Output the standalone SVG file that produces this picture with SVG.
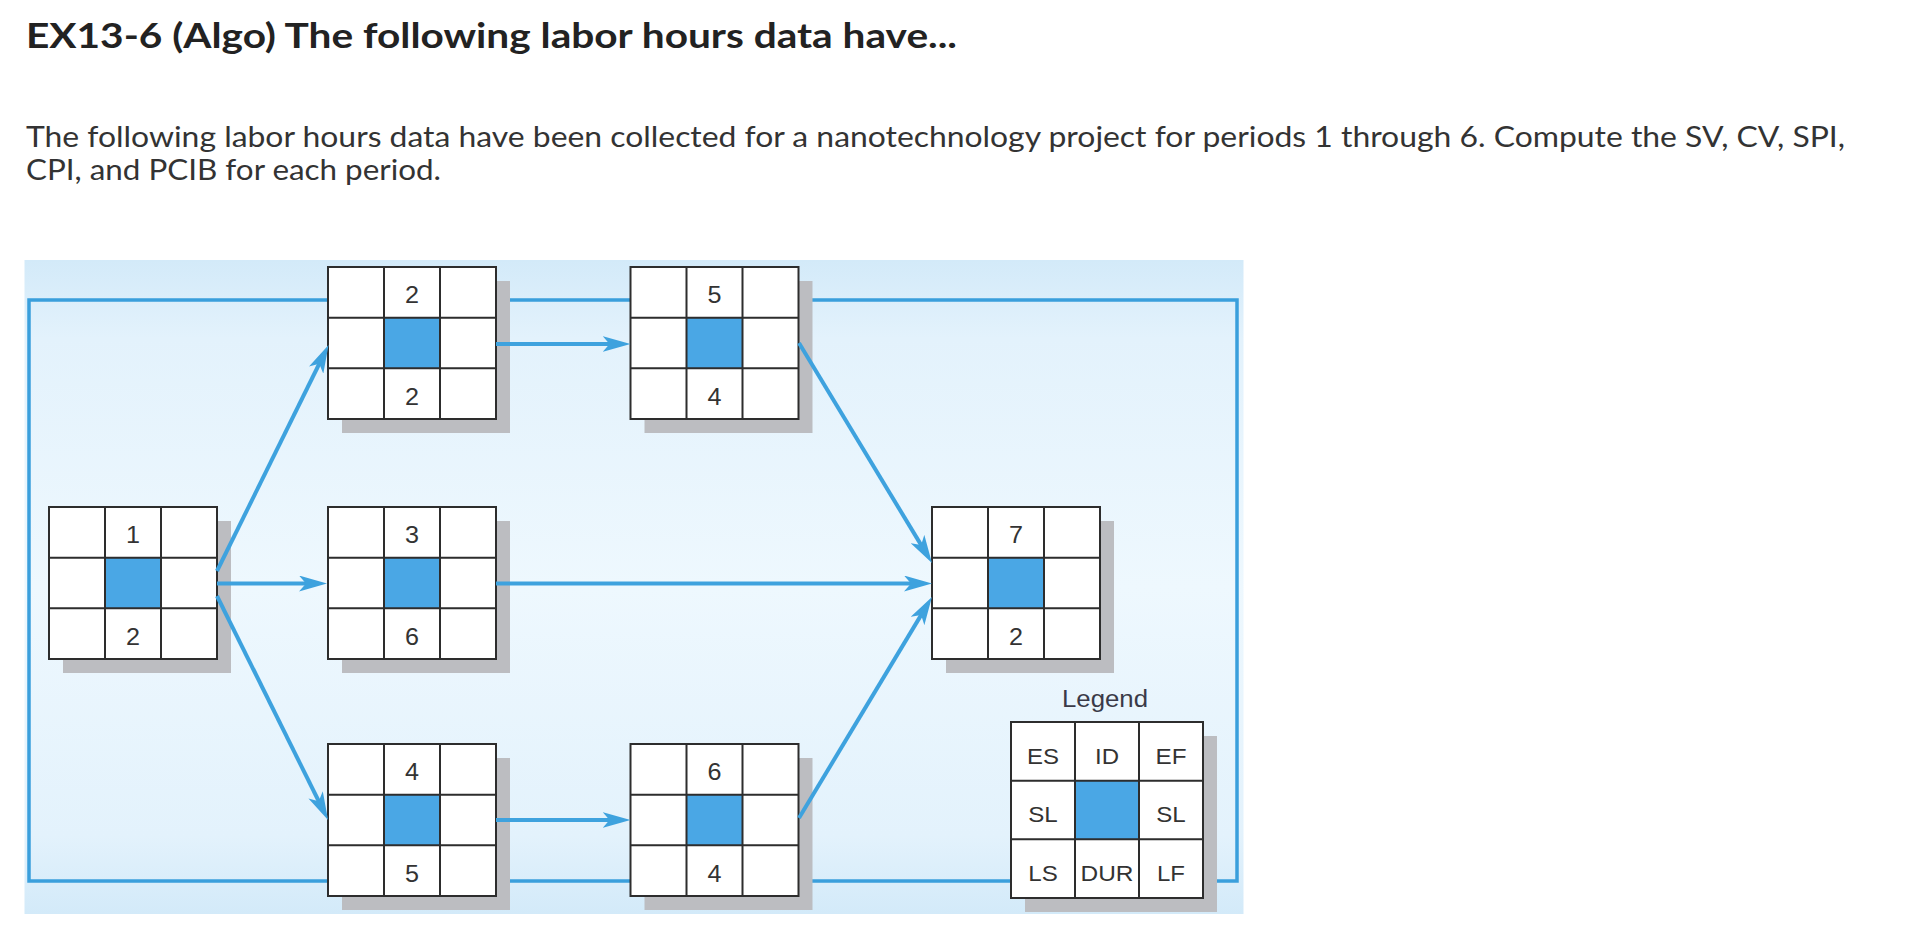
<svg xmlns="http://www.w3.org/2000/svg" xmlns:xlink="http://www.w3.org/1999/xlink" width="1924" height="952" viewBox="0 0 1924 952">
<style>
.title{font-family:Lato,"Open Sans","Liberation Sans",sans-serif;font-weight:700;font-size:34px;fill:#222}
.body{font-family:Lato,"Open Sans","Liberation Sans",sans-serif;font-size:29px;fill:#333}
.dig{font-family:"Liberation Sans",Arial,sans-serif;font-size:23px;fill:#333;text-anchor:middle}
.leg{font-family:"Liberation Sans",Arial,sans-serif;font-size:22px;fill:#333;text-anchor:middle}
.legt{font-family:"Liberation Sans",Arial,sans-serif;font-size:23px;fill:#3a3a48;text-anchor:middle}
.grid{fill:none;stroke:#2d2d2d;stroke-width:2}
.conn{fill:none;stroke:#3ea2de;stroke-width:4}
.frame{fill:none;stroke:#3a9fdc;stroke-width:3.5}
.shadow{fill:#bcbdc1}
.cell{fill:#ffffff}
.hub{fill:#4aa7e5}
</style>
<defs>
<linearGradient id="bgGrad" x1="0" y1="0" x2="0" y2="1">
<stop offset="0" stop-color="#d3eaf9"/>
<stop offset="0.12" stop-color="#e3f2fc"/>
<stop offset="0.5" stop-color="#eef8fe"/>
<stop offset="0.88" stop-color="#e3f2fc"/>
<stop offset="1" stop-color="#d3eaf9"/>
</linearGradient>
<marker id="arrow" markerUnits="userSpaceOnUse" viewBox="0 0 28 16" refX="18" refY="8" markerWidth="28" markerHeight="16" orient="auto">
<path d="M0,0 L28,8 L0,16 L7,8 Z" fill="#3ea2de"/>
</marker>
<g id="box">
<rect class="shadow" x="14" y="14" width="168" height="152"/>
<rect class="cell" x="0" y="0" width="168" height="152"/>
<rect class="hub" x="56" y="50.67" width="56" height="50.67"/>
<rect class="grid" x="0" y="0" width="168" height="152"/>
<path class="grid" d="M56,0V152M112,0V152M0,50.67H168M0,101.33H168"/>
</g>
</defs>
<rect width="1924" height="952" fill="#ffffff"/>
<text class="title" x="26" y="48" textLength="931" lengthAdjust="spacingAndGlyphs">EX13-6 (Algo) The following labor hours data have...</text>
<text class="body" x="26" y="147" textLength="1819" lengthAdjust="spacingAndGlyphs">The following labor hours data have been collected for a nanotechnology project for periods 1 through 6. Compute the SV, CV, SPI,</text>
<text class="body" x="26" y="180" textLength="415" lengthAdjust="spacingAndGlyphs">CPI, and PCIB for each period.</text>
<rect x="24.5" y="260" width="1219" height="654" fill="url(#bgGrad)"/>
<g id="frame">
<rect class="frame" x="29" y="300" width="1208" height="581"/>
</g>
<g id="node1">
<use xlink:href="#box" x="49" y="507"/>
<text class="dig" x="133" y="542.5" textLength="14" lengthAdjust="spacingAndGlyphs">1</text>
<text class="dig" x="133" y="644.5" textLength="14" lengthAdjust="spacingAndGlyphs">2</text>
</g>
<g id="node2">
<use xlink:href="#box" x="328" y="267"/>
<text class="dig" x="412" y="302.5" textLength="14" lengthAdjust="spacingAndGlyphs">2</text>
<text class="dig" x="412" y="404.5" textLength="14" lengthAdjust="spacingAndGlyphs">2</text>
</g>
<g id="node3">
<use xlink:href="#box" x="328" y="507"/>
<text class="dig" x="412" y="542.5" textLength="14" lengthAdjust="spacingAndGlyphs">3</text>
<text class="dig" x="412" y="644.5" textLength="14" lengthAdjust="spacingAndGlyphs">6</text>
</g>
<g id="node4">
<use xlink:href="#box" x="328" y="744"/>
<text class="dig" x="412" y="779.5" textLength="14" lengthAdjust="spacingAndGlyphs">4</text>
<text class="dig" x="412" y="881.5" textLength="14" lengthAdjust="spacingAndGlyphs">5</text>
</g>
<g id="node5">
<use xlink:href="#box" x="630.5" y="267"/>
<text class="dig" x="714.5" y="302.5" textLength="14" lengthAdjust="spacingAndGlyphs">5</text>
<text class="dig" x="714.5" y="404.5" textLength="14" lengthAdjust="spacingAndGlyphs">4</text>
</g>
<g id="node6">
<use xlink:href="#box" x="630.5" y="744"/>
<text class="dig" x="714.5" y="779.5" textLength="14" lengthAdjust="spacingAndGlyphs">6</text>
<text class="dig" x="714.5" y="881.5" textLength="14" lengthAdjust="spacingAndGlyphs">4</text>
</g>
<g id="node7">
<use xlink:href="#box" x="932" y="507"/>
<text class="dig" x="1016" y="542.5" textLength="14" lengthAdjust="spacingAndGlyphs">7</text>
<text class="dig" x="1016" y="644.5" textLength="14" lengthAdjust="spacingAndGlyphs">2</text>
</g>
<g id="legend">
<text class="legt" x="1105" y="707" textLength="86" lengthAdjust="spacingAndGlyphs">Legend</text>
<rect class="shadow" x="1025" y="736" width="192" height="176"/>
<rect class="cell" x="1011" y="722" width="192" height="176"/>
<rect class="hub" x="1075" y="780.67" width="64" height="58.67"/>
<rect class="grid" x="1011" y="722" width="192" height="176"/>
<path class="grid" d="M1075,722V898M1139,722V898M1011,780.67H1203M1011,839.33H1203"/>
<text class="leg" x="1043" y="764" textLength="32" lengthAdjust="spacingAndGlyphs">ES</text>
<text class="leg" x="1107" y="764" textLength="24" lengthAdjust="spacingAndGlyphs">ID</text>
<text class="leg" x="1171" y="764" textLength="31" lengthAdjust="spacingAndGlyphs">EF</text>
<text class="leg" x="1043" y="822" textLength="29.5" lengthAdjust="spacingAndGlyphs">SL</text>
<text class="leg" x="1171" y="822" textLength="29.5" lengthAdjust="spacingAndGlyphs">SL</text>
<text class="leg" x="1043" y="881" textLength="29.5" lengthAdjust="spacingAndGlyphs">LS</text>
<text class="leg" x="1107" y="881" textLength="53" lengthAdjust="spacingAndGlyphs">DUR</text>
<text class="leg" x="1171" y="881" textLength="28" lengthAdjust="spacingAndGlyphs">LF</text>
</g>
<g id="connectors">
<line class="conn" x1="217" y1="571" x2="324.1" y2="354" marker-end="url(#arrow)"/>
<line class="conn" x1="217" y1="583.5" x2="317" y2="583.5" marker-end="url(#arrow)"/>
<line class="conn" x1="217" y1="596" x2="323.6" y2="811" marker-end="url(#arrow)"/>
<line class="conn" x1="496" y1="344" x2="620.5" y2="344" marker-end="url(#arrow)"/>
<line class="conn" x1="496" y1="820" x2="620.5" y2="820" marker-end="url(#arrow)"/>
<line class="conn" x1="496" y1="583.5" x2="922" y2="583.5" marker-end="url(#arrow)"/>
<line class="conn" x1="799" y1="343" x2="926.8" y2="554.4" marker-end="url(#arrow)"/>
<line class="conn" x1="799" y1="818" x2="926.8" y2="605.6" marker-end="url(#arrow)"/>
</g>
</svg>
